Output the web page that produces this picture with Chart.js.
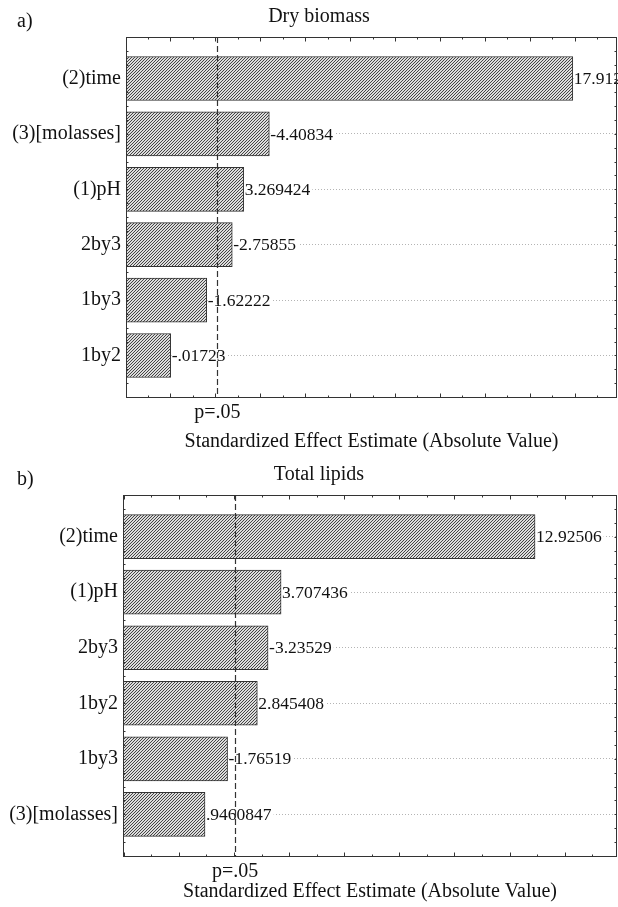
<!DOCTYPE html>
<html>
<head>
<meta charset="utf-8">
<script src="https://cdn.jsdelivr.net/npm/chart.js@4.4.1/dist/chart.umd.min.js"></script>
<style>
  html, body { margin: 0; padding: 0; background: #fff; }
  canvas { display: block; }
</style>
</head>
<body>
<canvas id="chart-biomass" width="618" height="455"></canvas>
<canvas id="chart-lipids" width="618" height="452"></canvas>
<script>
// ============================================
// Pareto charts of standardized effects
// ============================================

// a) Dry biomass
const biomassFactors = ['(2)time', '(3)[molasses]', '(1)pH', '2by3', '1by3', '1by2'];
const biomassEffects = [17.912, -4.40834, 3.269424, -2.75855, -1.62222, -0.01723];
const biomassPCrit = 2.1;

// b) Total lipids
const lipidFactors = ['(2)time', '(1)pH', '2by3', '1by2', '1by3', '(3)[molasses]'];
const lipidEffects = [12.92506, 3.707436, -3.23529, 2.845408, -1.76519, 0.9460847];
const lipidPCrit = 2.04;

const pLabel = 'p=.05';
const xAxisTitle = 'Standardized Effect Estimate (Absolute Value)';

const SERIF = '"Liberation Serif", "Times New Roman", Times, serif';
const INK = '#111';

// statistica style: drop the leading zero
const fmt = v => String(v).replace(/^(-?)0\./, '$1.');
const crisp = v => Math.round(v) + 0.5;

function hatchPattern() {
  const tile = document.createElement('canvas');
  tile.width = 3;
  tile.height = 3;
  const t = tile.getContext('2d');
  t.fillStyle = '#dcdcdc';
  t.fillRect(0, 0, 3, 3);
  t.fillStyle = '#444';
  for (let y = 0; y < 3; y++) t.fillRect(2 - y, y, 1, 1);   // "/" lines
  return t.createPattern(tile, 'repeat');
}

// labels, p line, frame with inward ticks, panel captions
function decorPlugin(cfg) {
  return {
    id: 'decor',
    afterDatasetsDraw(chart) {
      const { ctx, chartArea: a, scales: { x, y } } = chart;
      ctx.save();

      // value labels at bar ends (white box hides the dotted grid)
      ctx.font = '17.5px ' + SERIF;
      ctx.textBaseline = 'middle';
      ctx.textAlign = 'left';
      cfg.effects.forEach((e, i) => {
        const txt = fmt(e);
        const lx = x.getPixelForValue(Math.abs(e)) + 1;
        const ly = y.getPixelForValue(i + 1);
        const w = ctx.measureText(txt).width;
        ctx.fillStyle = '#fff';
        ctx.fillRect(lx, ly - 9, w + 2, 18);
        ctx.fillStyle = INK;
        ctx.fillText(txt, lx, ly + 1);
      });

      // p = .05 reference line
      const px = crisp(x.getPixelForValue(cfg.pCrit));
      ctx.strokeStyle = '#333';
      ctx.lineWidth = 1.2;
      ctx.setLineDash([6, 3]);
      ctx.beginPath();
      ctx.moveTo(px, a.top);
      ctx.lineTo(px, a.bottom);
      ctx.stroke();
      ctx.setLineDash([]);

      // frame
      const L = crisp(a.left), R = crisp(a.right) - 1, T = crisp(a.top), B = crisp(a.bottom);
      ctx.strokeStyle = '#333';
      ctx.lineWidth = 1;
      ctx.strokeRect(L, T, R - L, B - T);

      // inward ticks
      ctx.beginPath();
      for (let v = Math.ceil(x.min); v <= x.max; v++) {
        const tx = crisp(x.getPixelForValue(v));
        const len = v % 2 === 0 ? 4 : 2;
        ctx.moveTo(tx, B); ctx.lineTo(tx, B - len);
        ctx.moveTo(tx, T); ctx.lineTo(tx, T + len);
      }
      for (let v = 0.5; v < y.max; v += 0.25) {
        const ty = crisp(y.getPixelForValue(v));
        ctx.moveTo(L, ty); ctx.lineTo(L + 2, ty);
        ctx.moveTo(R, ty); ctx.lineTo(R - 2, ty);
      }
      ctx.stroke();

      // panel letter and title
      ctx.fillStyle = INK;
      ctx.font = '20px ' + SERIF;
      ctx.textBaseline = 'alphabetic';
      ctx.textAlign = 'left';
      ctx.fillText(cfg.letter, 17, cfg.letterY);
      ctx.textAlign = 'center';
      ctx.fillText(cfg.title, 319, cfg.titleY);

      ctx.restore();
    }
  };
}

function paretoChart(id, cfg) {
  const font = { family: SERIF, size: 20 };
  const bars = cfg.effects.map((e, i) => ({ y: i + 1, x: [cfg.xMin, Math.abs(e)] }));

  return new Chart(document.getElementById(id), {
    type: 'bar',
    data: {
      datasets: [{
        data: bars,
        backgroundColor: hatchPattern(),
        borderColor: '#333',
        borderWidth: 1,
        borderSkipped: false,
        barThickness: 44,
      }]
    },
    options: {
      indexAxis: 'y',
      responsive: false,
      animation: false,
      events: [],
      layout: { padding: { top: cfg.top, right: 1, left: 0, bottom: 0 } },
      plugins: { legend: { display: false }, tooltip: { enabled: false } },
      scales: {
        x: {
          type: 'linear',
          min: cfg.xMin,
          max: cfg.xMax,
          afterBuildTicks: s => { s.ticks = [{ value: cfg.pCrit }]; },
          afterFit: s => { s.height = cfg.xHeight; },
          grid: { display: false },
          border: { display: false },
          ticks: { font, color: INK, padding: -4, maxRotation: 0, autoSkip: false, callback: () => pLabel },
          title: { display: true, text: xAxisTitle, font, color: INK, padding: { top: 0, bottom: cfg.titlePad } },
        },
        y: {
          type: 'linear',
          min: 0.25,
          max: 6.75,
          reverse: true,
          offset: false,
          afterBuildTicks: s => { s.ticks = cfg.factors.map((f, i) => ({ value: i + 1 })); },
          afterFit: s => { s.width = cfg.yWidth; },
          grid: { color: '#b4b4b4', lineWidth: 1, drawTicks: false, offset: false },
          border: { display: false, dash: [1, 2] },
          ticks: { font, color: INK, padding: 5, autoSkip: false, callback: (v, i) => cfg.factors[i] },
        }
      }
    },
    plugins: [decorPlugin(cfg)]
  });
}

paretoChart('chart-biomass', {
  factors: biomassFactors, effects: biomassEffects, pCrit: biomassPCrit,
  xMin: -1.97, xMax: 19.88,
  top: 37, xHeight: 58, yWidth: 126, titlePad: 1,
  letter: 'a)', letterY: 27, title: 'Dry biomass', titleY: 22,
});

paretoChart('chart-lipids', {
  factors: lipidFactors, effects: lipidEffects, pCrit: lipidPCrit,
  xMin: -2.03, xMax: 15.9,
  top: 40, xHeight: 51, yWidth: 123, titlePad: 3,
  letter: 'b)', letterY: 30, title: 'Total lipids', titleY: 25,
});
</script>
</body>
</html>
